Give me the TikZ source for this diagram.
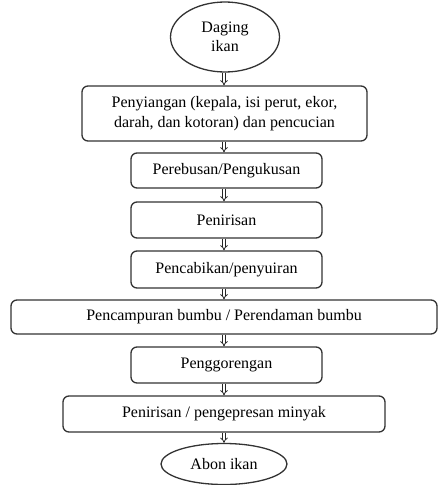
\documentclass[tikz,border=0pt]{standalone}
\usepackage{fontspec}
\setmainfont{Liberation Serif}
\usepackage{tikz}
\usetikzlibrary{arrows.meta}
\usetikzlibrary{shapes.geometric}

\tikzset{
	flowbox/.style={
		draw=black!80,
		line width=1.3pt,
		rounded corners=6pt,
		inner sep=0pt,
		align=center,
		font=\fontsize{16}{20}\selectfont
	},
	flowend/.style={
		draw=black!80,
		line width=1.3pt,
		ellipse,
		inner sep=0pt,
		align=center,
		font=\fontsize{16}{19}\selectfont
	},
	flowarrow/.style={
		draw=black!85,
		line width=0.8pt,
		double=white,
		double distance=1.8pt,
		-{Implies[length=3pt, width=7pt]}
	}
}

\begin{document}
\begin{tikzpicture}[x=1pt, y=1pt]
	\useasboundingbox (0,0) rectangle (438,-485);

	% start and end
	\node[flowend, minimum width=109pt, minimum height=70pt]
		(daging) at (225,-37) {Daging\\ikan};
	\node[flowend, minimum width=126pt, minimum height=41pt]
		(abon) at (224,-464) {Abon ikan};

	% process steps
	\node[flowbox, minimum width=285pt, minimum height=55pt]
		(siang) at (224.5,-113.5)
			{Penyiangan (kepala, isi perut, ekor,\\darah, dan kotoran) dan pencucian};
	\node[flowbox, minimum width=191pt, minimum height=35pt]
		(rebus) at (226.5,-170.5) {Perebusan/Pengukusan};
	\node[flowbox, minimum width=191pt, minimum height=36pt]
		(tiris) at (226.5,-220) {Penirisan};
	\node[flowbox, minimum width=191pt, minimum height=37pt]
		(cabik) at (226.5,-269.5) {Pencabikan/penyuiran};
	\node[flowbox, minimum width=426pt, minimum height=34pt]
		(campur) at (224,-317) {Pencampuran bumbu / Perendaman bumbu};
	\node[flowbox, minimum width=191pt, minimum height=36pt]
		(goreng) at (226.5,-365) {Penggorengan};
	\node[flowbox, minimum width=322pt, minimum height=36pt]
		(press) at (224,-414) {Penirisan / pengepresan minyak};

	% arrows
	\foreach \a/\b in {daging/siang, siang/rebus, rebus/tiris, tiris/cabik,
		cabik/campur, campur/goreng, goreng/press, press/abon}{
		\draw[flowarrow] (\a.south -| 224,0) -- (\b.north -| 224,0);
	}
\end{tikzpicture}
\end{document}
